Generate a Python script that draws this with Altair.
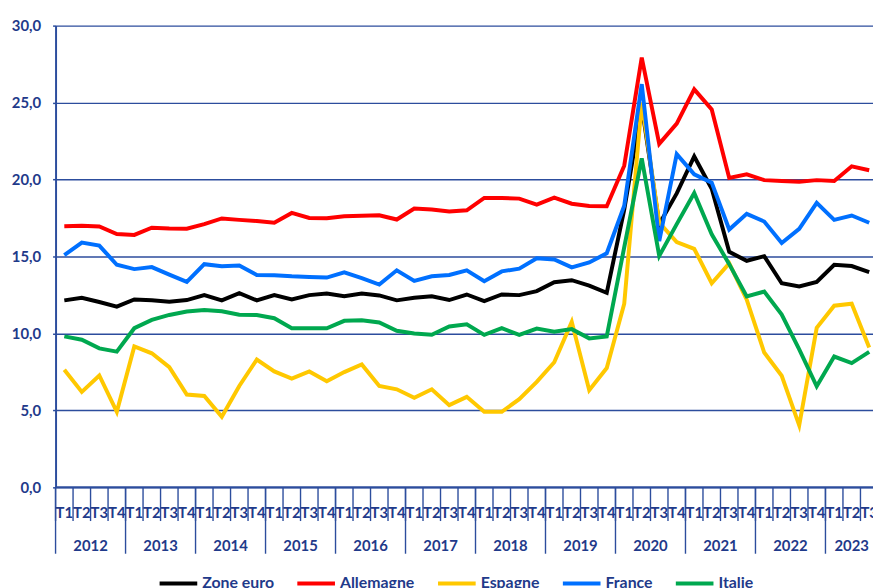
import altair as alt
import pandas as pd

# ---- data ----
series_names = ["Zone euro", "Allemagne", "Espagne", "France", "Italie"]
series_colors = ["#000000", "#FF0000", "#FFC800", "#0070FF", "#00A84F"]

years = [2012, 2013, 2014, 2015, 2016, 2017, 2018, 2019, 2020, 2021, 2022, 2023]
quarter_labels = ["T1", "T2", "T3", "T4"]
n_quarters = 47  # 2012 T1 .. 2023 T3

zone_euro = [12.15, 12.32, 12.04, 11.74, 12.21, 12.15, 12.06, 12.17, 12.49, 12.15, 12.62, 12.15,
             12.49, 12.21, 12.49, 12.60, 12.42, 12.60, 12.47, 12.15, 12.32, 12.42, 12.17,
             12.53, 12.10, 12.53, 12.49, 12.75, 13.33, 13.46, 13.11, 12.64,
             18.05, 24.80, 17.10, 19.10, 21.50, 19.40, 15.30, 14.72, 15.02, 13.26, 13.05, 13.35,
             14.46, 14.38, 13.99]
allemagne = [16.97, 17.00, 16.95, 16.46, 16.40, 16.87, 16.82, 16.80, 17.10, 17.47, 17.38, 17.30,
             17.19, 17.83, 17.50, 17.49, 17.62, 17.64, 17.68, 17.40, 18.11, 18.05, 17.92,
             18.00, 18.80, 18.80, 18.76, 18.37, 18.82, 18.43, 18.28, 18.26,
             20.90, 27.92, 22.32, 23.63, 25.86, 24.55, 20.10, 20.34, 19.96, 19.91, 19.85, 19.96,
             19.90, 20.86, 20.60]
espagne = [7.64, 6.20, 7.27, 4.91, 9.16, 8.71, 7.81, 6.03, 5.94, 4.59, 6.59, 8.30,
           7.53, 7.06, 7.53, 6.89, 7.49, 7.98, 6.59, 6.37, 5.82, 6.37, 5.34,
           5.88, 4.91, 4.91, 5.73, 6.85, 8.13, 10.75, 6.31, 7.75,
           11.93, 25.00, 17.20, 15.94, 15.50, 13.26, 14.55, 12.19, 8.76, 7.25, 4.03, 10.36,
           11.80, 11.93, 9.08]
france = [15.09, 15.90, 15.71, 14.46, 14.18, 14.31, 13.82, 13.35, 14.50, 14.36, 14.42, 13.80,
          13.78, 13.71, 13.67, 13.63, 13.97, 13.60, 13.18, 14.10, 13.41, 13.71, 13.80,
          14.10, 13.39, 14.03, 14.21, 14.89, 14.81, 14.29, 14.61, 15.21,
          18.30, 26.20, 16.00, 21.65, 20.34, 19.80, 16.75, 17.77, 17.27, 15.88, 16.80, 18.48,
          17.38, 17.66, 17.19]
italie = [9.81, 9.59, 9.03, 8.82, 10.34, 10.88, 11.20, 11.42, 11.52, 11.44, 11.22, 11.20,
          10.99, 10.34, 10.34, 10.34, 10.82, 10.86, 10.71, 10.17, 10.00, 9.91, 10.45,
          10.60, 9.91, 10.34, 9.91, 10.32, 10.11, 10.28, 9.68, 9.81,
          15.60, 21.37, 15.04, 17.10, 19.12, 16.44, 14.50, 12.40, 12.72, 11.22, 8.97, 6.57,
          8.50, 8.07, 8.80]
y_ticks = [0, 5, 10, 15, 20, 25, 30]

# ---- style ----
NAVY_TXT = "#1F3A8A"
NAVY_LINE = "#2C4D9D"
FONT = "Lato"
W_VIEW = 825      # visible plot width
W_SCALE = 830     # full width of the 47 quarters (last one is cut like the reference)
H = 466

# ---- tables ----
rows = []
for name, vals in zip(series_names, [zone_euro, allemagne, espagne, france, italie]):
    for i, v in enumerate(vals):
        rows.append({"pos": i + 0.5, "serie": name, "value": v, "ord": i})
df = pd.DataFrame(rows)

q_df = pd.DataFrame({"pos": [i + 0.5 for i in range(n_quarters)],
                     "q": [quarter_labels[i % 4] for i in range(n_quarters)]})
qtick_df = pd.DataFrame({"b": list(range(n_quarters + 1))})
ytick_df = pd.DataFrame({"b": [4 * k for k in range(len(years))] + [n_quarters]})
year_pos = []
for k, yv in enumerate(years):
    start = 4 * k
    end = min(4 * k + 4, n_quarters)
    year_pos.append((start + end) / 2)
yr_df = pd.DataFrame({"pos": year_pos, "year": [str(y) for y in years]})

xscale = alt.Scale(domain=[0, n_quarters], range=[0, W_SCALE], nice=False, zero=False)
yscale = alt.Scale(domain=[0, 30], nice=False)

lines = alt.Chart(df).mark_line(strokeWidth=4, strokeJoin="miter").encode(
    x=alt.X("pos:Q", scale=xscale, axis=None),
    y=alt.Y("value:Q", scale=yscale, axis=alt.Axis(
        values=y_ticks, title=None,
        labelExpr="replace(format(datum.value, '.1f'), '.', ',')",
        labelFont=FONT, labelFontWeight="bold", labelFontSize=15, labelColor=NAVY_TXT,
        labelPadding=12, tickSize=3, tickColor=NAVY_LINE, tickWidth=1.5,
        domainColor=NAVY_LINE, domainWidth=2,
        grid=True, gridColor=NAVY_LINE, gridWidth=1.4)),
    color=alt.Color("serie:N", sort=series_names,
                    scale=alt.Scale(domain=series_names, range=series_colors),
                    legend=alt.Legend(orient="none", legendX=103, legendY=542,
                                      direction="horizontal", title=None,
                                      symbolType="stroke", symbolSize=1444,
                                      symbolStrokeWidth=4, labelFont=FONT,
                                      labelFontWeight="bold", labelFontSize=16,
                                      labelColor=NAVY_TXT, labelOffset=3,
                                      columnPadding=15, padding=0)),
    order=alt.Order("ord:Q"),
)

bottom_line = alt.Chart(pd.DataFrame({"v": [0]})).mark_rule(
    color=NAVY_LINE, strokeWidth=2).encode(
    y=alt.Y("v:Q", scale=yscale), x=alt.value(0), x2=alt.value(W_VIEW))

qticks = alt.Chart(qtick_df).mark_rule(color=NAVY_LINE, strokeWidth=1.4).encode(
    x=alt.X("b:Q", scale=xscale, axis=None), y=alt.value(H), y2=alt.value(H + 34))
yticks = alt.Chart(ytick_df).mark_rule(color=NAVY_LINE, strokeWidth=1.4).encode(
    x=alt.X("b:Q", scale=xscale, axis=None), y=alt.value(H), y2=alt.value(H + 67))
qtext = alt.Chart(q_df).mark_text(font=FONT, fontWeight="bold", fontSize=15,
                                  color=NAVY_TXT, baseline="middle").encode(
    x=alt.X("pos:Q", scale=xscale, axis=None), y=alt.value(H + 26), text="q:N")
ytext = alt.Chart(yr_df).mark_text(font=FONT, fontWeight="bold", fontSize=15,
                                   color=NAVY_TXT, baseline="middle").encode(
    x=alt.X("pos:Q", scale=xscale, axis=None), y=alt.value(H + 59), text="year:N")

chart = alt.layer(qticks, yticks, qtext, ytext, lines, bottom_line).properties(
    width=W_VIEW, height=H,
    autosize=alt.AutoSizeParams(type="none"),
    padding={"left": 48, "top": 15, "right": 0, "bottom": 120},
    background="white",
).configure_view(stroke=None)

chart.save("out.html", embed_options={"renderer": "svg", "actions": False})
